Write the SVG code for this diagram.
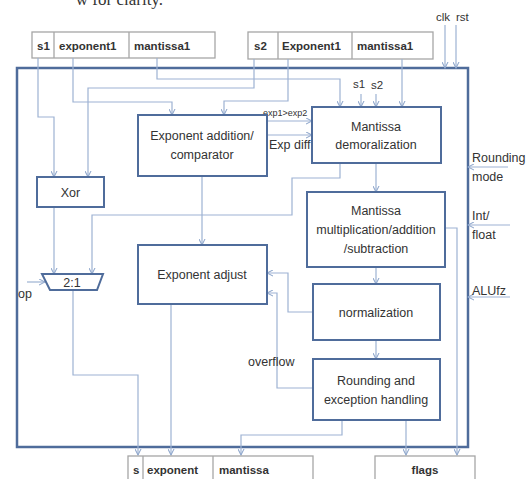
<svg xmlns="http://www.w3.org/2000/svg" width="527" height="479" viewBox="0 0 527 479">
<defs>
<marker id="ah" viewBox="0 0 8 8" refX="7" refY="4" markerWidth="7" markerHeight="7" orient="auto" markerUnits="userSpaceOnUse">
<path d="M0,0.5 L7,4 L0,7.5" fill="none" stroke="#8fa7cc" stroke-width="1.2"/>
</marker>
</defs>
<style>
.blk{fill:#fff;stroke:#4f6c9b;stroke-width:2}
.io{fill:#fff;stroke:#a6a6a6;stroke-width:1.3}
.c{fill:none;stroke:#9db2d3;stroke-width:1.2;marker-end:url(#ah)}
.cn{fill:none;stroke:#9db2d3;stroke-width:1.2}
text{font-family:"Liberation Sans",Arial,sans-serif;fill:#333;font-size:12.5px}
.b{font-weight:bold;font-size:11.5px}
.m{text-anchor:middle}
.s{font-size:9px}
</style>
<rect width="527" height="479" fill="#fff"/>
<text x="163" y="5" style="font-family:'Liberation Serif',serif;font-size:17px" text-anchor="end">w for clarity.</text>

<g id="outer"><rect x="17" y="68" width="451" height="379" fill="none" stroke="#4f6c9b" stroke-width="2.5"/></g>

<g id="input1">
<rect class="io" x="32" y="32" width="183" height="26"/>
<line x1="54" y1="32" x2="54" y2="58" stroke="#a6a6a6" stroke-width="1.3"/>
<line x1="129" y1="32" x2="129" y2="58" stroke="#a6a6a6" stroke-width="1.3"/>
<text class="b" x="37" y="50">s1</text>
<text class="b" x="59" y="50">exponent1</text>
<text class="b" x="134" y="50">mantissa1</text>
</g>
<g id="input2">
<rect class="io" x="248" y="32" width="185" height="27"/>
<line x1="278" y1="32" x2="278" y2="59" stroke="#a6a6a6" stroke-width="1.3"/>
<line x1="352" y1="32" x2="352" y2="59" stroke="#a6a6a6" stroke-width="1.3"/>
<text class="b" x="254" y="50">s2</text>
<text class="b" x="282" y="50">Exponent1</text>
<text class="b" x="357" y="50">mantissa1</text>
</g>

<g id="connectors">
<path class="c" d="M38,58 V117 H54 V177"/>
<path class="c" d="M254,59 V88 H88 V177"/>
<path class="c" d="M73,58 V102 H172 V115"/>
<path class="c" d="M288,59 V101 H224 V115"/>
<path class="c" d="M157,58 V79 H340 V107"/>
<path class="c" d="M402,59 V107"/>
<path class="c" d="M361,94 V107"/>
<path class="c" d="M376,94 V107"/>
<path class="c" d="M445,25 V68"/>
<path class="c" d="M456,25 V68"/>
<path class="c" d="M267,121 H312"/>
<path class="c" d="M267,135 H312"/>
<path class="c" d="M340,163 V178 H292 V215 H92 V274"/>
<path class="c" d="M54,207 V274"/>
<path class="c" d="M27,282 H45"/>
<path class="c" d="M73,290 V375 H138 V455"/>
<path class="c" d="M202,176 V245"/>
<path class="c" d="M171,304 V455"/>
<path class="c" d="M376,163 V192"/>
<path class="c" d="M376,267 V284"/>
<path class="c" d="M376,340 V359"/>
<path class="c" d="M313,312 H288 V273 H267"/>
<path class="c" d="M313,388 H277 V293 H267"/>
<path class="c" d="M342,420 V435 H241 V455"/>
<path class="c" d="M406,420 V455"/>
<path class="c" d="M445,228 H457 V455"/>
<path class="c" d="M508,167 H468"/>
<path class="c" d="M510,225 H468"/>
<path class="c" d="M510,297 H468"/>
</g>

<g id="labels">
<text x="21" y="21" class="m" style="display:none"></text>
<text x="436" y="21" style="font-size:11.5px">clk</text>
<text x="456" y="21" style="font-size:11.5px">rst</text>
<text x="353" y="88" style="font-size:11.5px">s1</text>
<text x="371" y="89" style="font-size:11.5px">s2</text>
<text class="s" x="263" y="116">exp1&gt;exp2</text>
<text x="269" y="149">Exp diff</text>
<text x="18" y="298">op</text>
<text x="248" y="366">overflow</text>
<text x="472" y="162">Rounding</text>
<text x="472" y="181">mode</text>
<text x="472" y="220">Int/</text>
<text x="472" y="239">float</text>
<text x="472" y="295">ALUfz</text>
</g>

<g id="xor"><rect class="blk" x="37" y="177" width="67" height="30"/><text class="m" x="70.5" y="197">Xor</text></g>
<g id="mux"><polygon class="blk" points="42,274 103,274 97,290 50,290"/><text class="m" x="72" y="287">2:1</text></g>
<g id="expadd"><rect class="blk" x="138" y="115" width="129" height="61"/><text class="m" x="202" y="140">Exponent addition/</text><text class="m" x="202" y="159">comparator</text></g>
<g id="expadj"><rect class="blk" x="138" y="245" width="129" height="59"/><text class="m" x="202" y="279">Exponent adjust</text></g>
<g id="demor"><rect class="blk" x="312" y="107" width="129" height="56"/><text class="m" x="376" y="131">Mantissa</text><text class="m" x="376" y="149">demoralization</text></g>
<g id="mult"><rect class="blk" x="307" y="192" width="138" height="75"/><text class="m" x="376" y="215">Mantissa</text><text class="m" x="376" y="234">multiplication/addition</text><text class="m" x="376" y="253">/subtraction</text></g>
<g id="norm"><rect class="blk" x="313" y="284" width="127" height="56"/><text class="m" x="376" y="317">normalization</text></g>
<g id="round"><rect class="blk" x="313" y="359" width="127" height="61"/><text class="m" x="376" y="385">Rounding and</text><text class="m" x="376" y="404">exception handling</text></g>

<g id="output">
<rect class="io" x="128" y="456" width="185" height="30"/>
<line x1="143" y1="456" x2="143" y2="486" stroke="#a6a6a6" stroke-width="1.3"/>
<line x1="213" y1="456" x2="213" y2="486" stroke="#a6a6a6" stroke-width="1.3"/>
<text class="b" x="133" y="474">s</text>
<text class="b" x="147" y="474">exponent</text>
<text class="b" x="219" y="474">mantissa</text>
</g>
<g id="flags"><rect class="io" x="375" y="456" width="100" height="30"/><text class="b m" x="425" y="474">flags</text></g>
</svg>
